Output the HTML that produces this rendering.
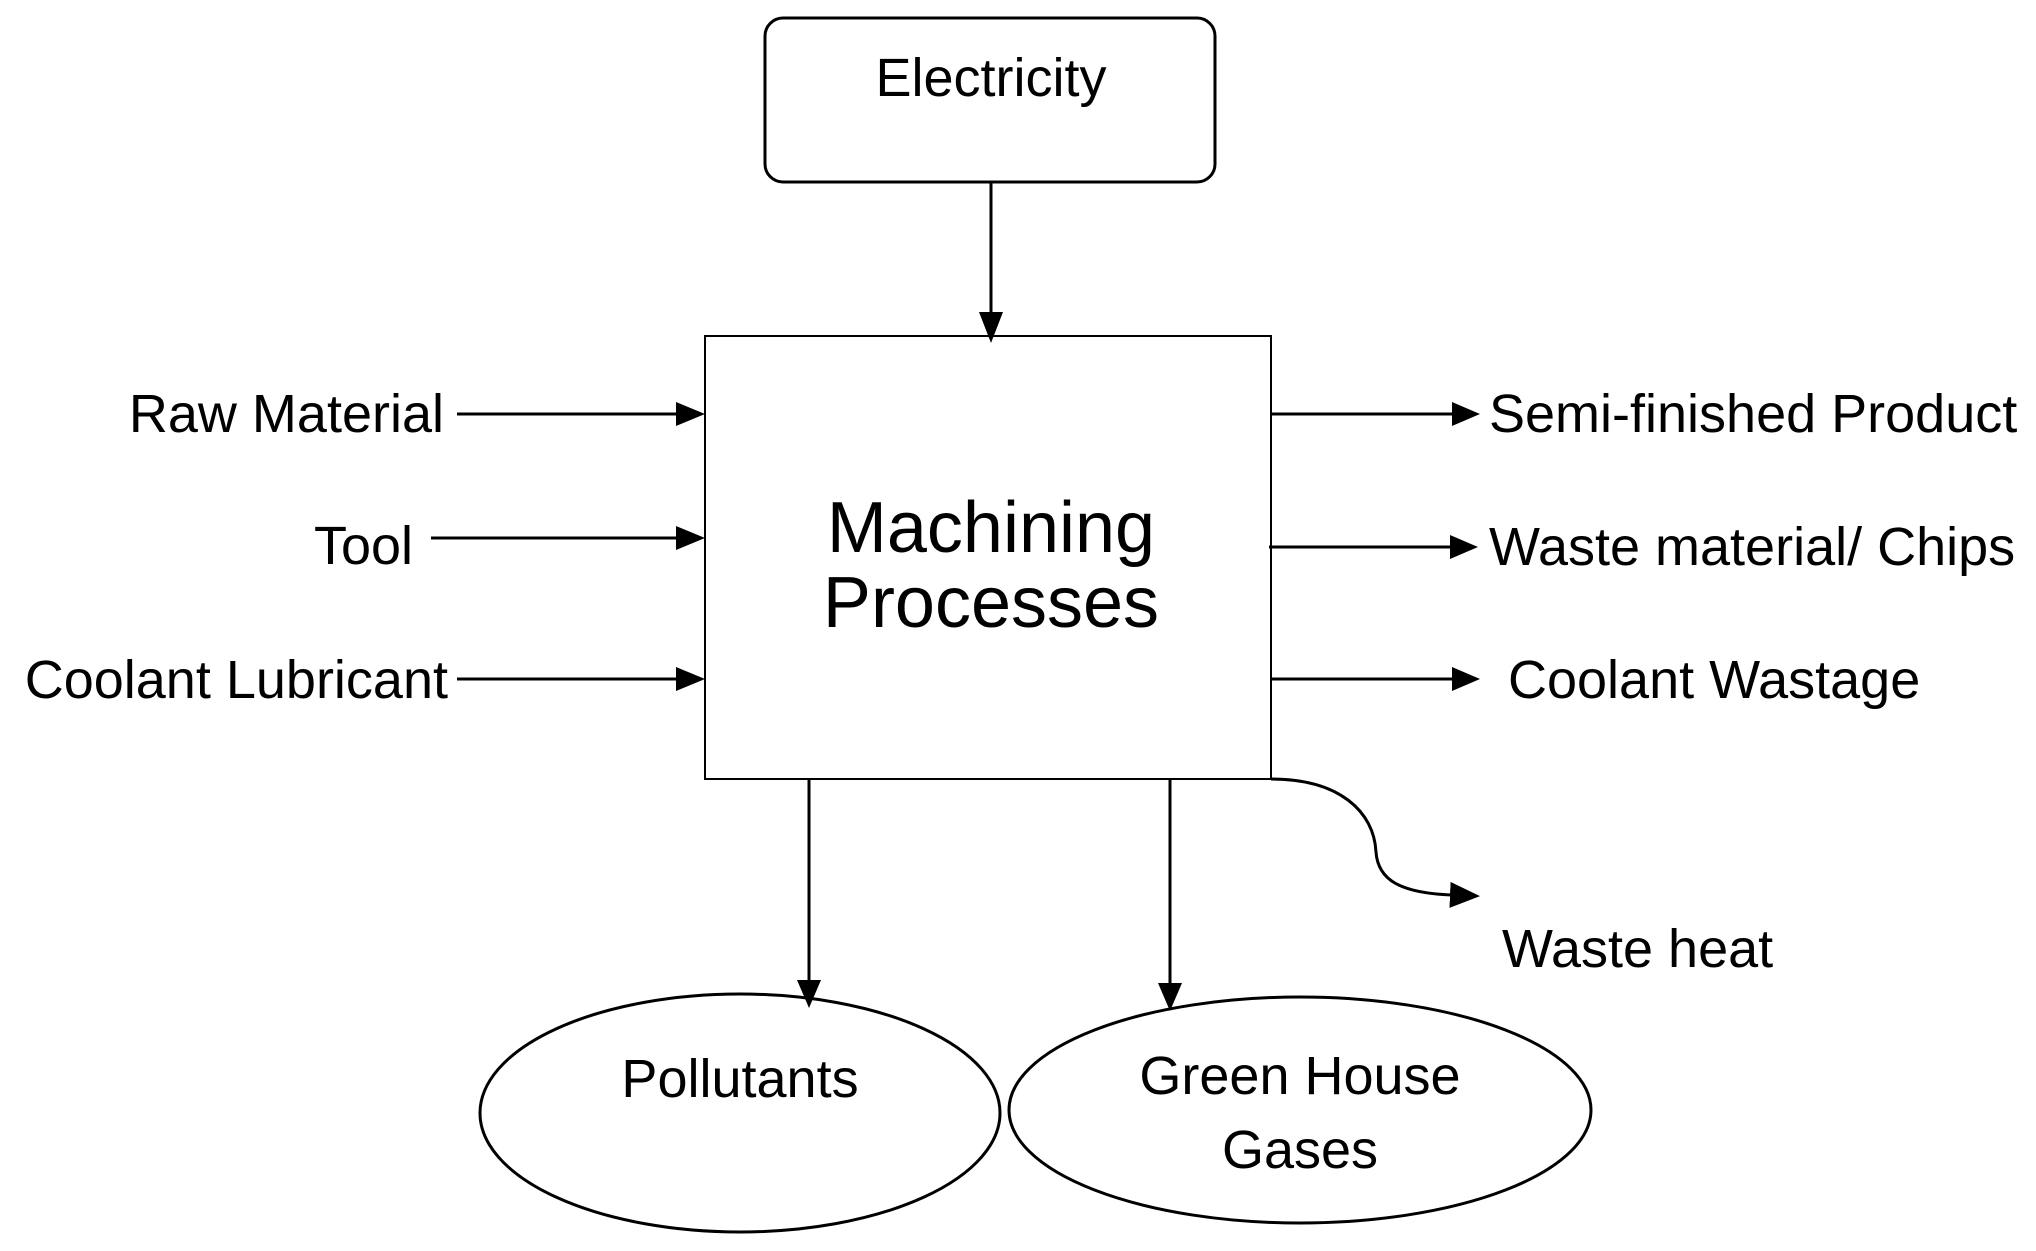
<!DOCTYPE html>
<html><head><style>html,body{margin:0;padding:0;background:#fff}</style></head><body>
<svg width="2036" height="1246" viewBox="0 0 2036 1246" xmlns="http://www.w3.org/2000/svg" font-family="Liberation Sans, Arial, sans-serif" fill="#000">
<defs><marker id="a" markerWidth="30" markerHeight="26" refX="2" refY="13" orient="auto" markerUnits="userSpaceOnUse" viewBox="0 0 30 26"><path d="M0,0 L30,13 L0,26 z"/></marker></defs>
<g stroke="#000" stroke-width="3" fill="none">
<rect x="765" y="18" width="450" height="164" rx="18"/>
<rect x="705" y="336" width="566" height="443" stroke-width="2"/>
<ellipse cx="740" cy="1113" rx="260" ry="119"/>
<ellipse cx="1300" cy="1110" rx="291" ry="113"/>
</g>
<g stroke="#000" stroke-width="3" fill="none">
<line x1="991" y1="182" x2="991" y2="312"/>
<line x1="457" y1="414" x2="676" y2="414"/>
<line x1="431" y1="538" x2="676" y2="538"/>
<line x1="457" y1="679" x2="676" y2="679"/>
<line x1="1271" y1="414" x2="1452" y2="414"/>
<line x1="1269" y1="547" x2="1450" y2="547"/>
<line x1="1271" y1="679" x2="1452" y2="679"/>
<line x1="809" y1="779" x2="809" y2="980"/>
<line x1="1170" y1="779" x2="1170" y2="983"/>
<path d="M1271,779 C1340,779 1374,812 1376,852 C1378,880 1400,893 1452,895" marker-end="url(#a)"/>
</g>
<g>
<path d="M979,312 L1003,312 L991,343 z"/>
<path d="M676,402 L676,426 L705,414 z"/>
<path d="M676,526 L676,550 L705,538 z"/>
<path d="M676,667 L676,691 L705,679 z"/>
<path d="M1452,402 L1452,426 L1480,414 z"/>
<path d="M1450,535 L1450,559 L1478,547 z"/>
<path d="M1452,667 L1452,691 L1480,679 z"/>
<path d="M797,980 L821,980 L809,1008 z"/>
<path d="M1158,983 L1182,983 L1170,1011 z"/>
</g>
<g font-size="54" text-anchor="middle">
<text x="991" y="96">Electricity</text>
<text x="991" y="552" font-size="72">Machining</text>
<text x="991" y="627" font-size="72">Processes</text>
<text x="740" y="1097">Pollutants</text>
<text x="1300" y="1094">Green House</text>
<text x="1300" y="1168">Gases</text>
</g>
<g font-size="54">
<text x="444" y="432" text-anchor="end">Raw Material</text>
<text x="413" y="564" text-anchor="end">Tool</text>
<text x="448" y="698" text-anchor="end">Coolant Lubricant</text>
<text x="1489" y="432">Semi-finished Product</text>
<text x="1489" y="565">Waste material/ Chips</text>
<text x="1508" y="698">Coolant Wastage</text>
<text x="1502" y="967">Waste heat</text>
</g>
</svg>
</body></html>
